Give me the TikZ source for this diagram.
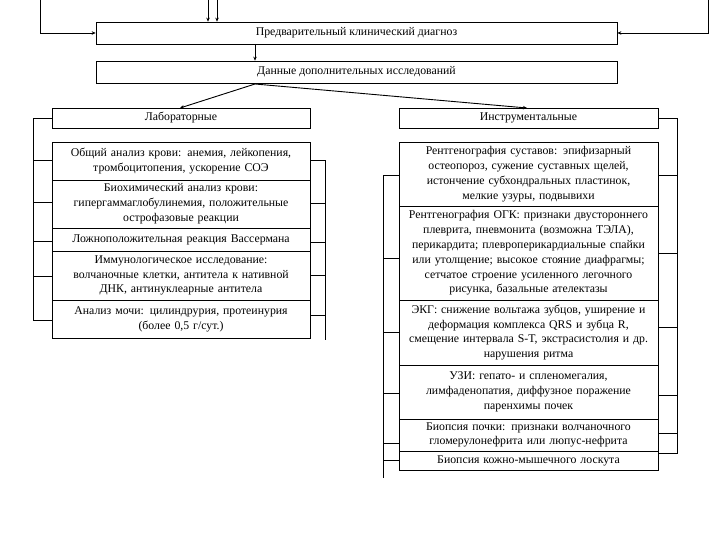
\documentclass[tikz,border=0pt]{standalone}
\usepackage{fontspec}
\setmainfont{Liberation Serif}
\usetikzlibrary{arrows.meta}
\tikzset{
  bx/.style={draw, line width=0.7pt, align=center, inner sep=0pt,
    font=\fontsize{11.8}{14.8}\selectfont},
  arr/.style={line width=0.9pt, -{Stealth[length=4pt,width=3.5pt]}},
  br/.style={line width=0.6pt},
}
\begin{document}
\begin{tikzpicture}[x=1pt,y=-1pt]
\useasboundingbox (0,0) rectangle (720,540);
% top boxes
\node[bx, minimum width=521, minimum height=22] (diag) at (356.5,33) {Предварительный клинический диагноз};
\node[bx, minimum width=521, minimum height=22] (data) at (356.5,72) {Данные дополнительных исследований};
\node[bx, minimum width=258, minimum height=20] (lab) at (181,118) {Лабораторные};
\node[bx, minimum width=259, minimum height=20] (instr) at (528.5,118) {Инструментальные};
% left column
\node[bx, minimum width=258, minimum height=38, text width=254] (L1) at (181,161) {Общий анализ крови: анемия, лейкопения,\\ тромбоцитопения, ускорение СОЭ};
\node[bx, minimum width=258, minimum height=48, text width=254] (L2) at (181,204) {Биохимический анализ крови:\\ гипергаммаглобулинемия, положительные\\ острофазовые реакции};
\node[bx, minimum width=258, minimum height=23, text width=254] (L3) at (181,239.5) {Ложноположительная реакция Вассермана};
\node[bx, minimum width=258, minimum height=49, text width=254] (L4) at (181,275.5) {Иммунологическое исследование:\\ волчаночные клетки, антитела к нативной\\ ДНК, антинуклеарные антитела};
\node[bx, minimum width=258, minimum height=38, text width=254] (L5) at (181,319) {Анализ мочи: цилиндрурия, протеинурия\\ (более 0,5 г/сут.)};
% right column
\node[bx, minimum width=259, minimum height=64, text width=255] (R1) at (528.5,174) {Рентгенография суставов: эпифизарный\\ остеопороз, сужение суставных щелей,\\ истончение субхондральных пластинок,\\ мелкие узуры, подвывихи};
\node[bx, minimum width=259, minimum height=94, text width=255] (R2) at (528.5,253) {Рентгенография ОГК: признаки двустороннего\\ плеврита, пневмонита (возможна ТЭЛА),\\ перикардита; плевроперикардиальные спайки\\ или утолщение; высокое стояние диафрагмы;\\ сетчатое строение усиленного легочного\\ рисунка, базальные ателектазы};
\node[bx, minimum width=259, minimum height=65, text width=255] (R3) at (528.5,332.5) {ЭКГ: снижение вольтажа зубцов, уширение и\\ деформация комплекса QRS и зубца R,\\ смещение интервала S-T, экстрасистолия и др.\\ нарушения ритма};
\node[bx, minimum width=259, minimum height=54, text width=255] (R4) at (528.5,392) {УЗИ: гепато- и спленомегалия,\\ лимфаденопатия, диффузное поражение\\ паренхимы почек};
\node[bx, minimum width=259, minimum height=32, text width=255] (R5) at (528.5,435) {Биопсия почки: признаки волчаночного\\ гломерулонефрита или люпус-нефрита};
\node[bx, minimum width=259, minimum height=19, text width=255] (R6) at (528.5,460.5) {Биопсия кожно-мышечного лоскута};
% top connectors
\coordinate (tl) at (40,0);
\coordinate (tr) at (708,0);
\coordinate (t1) at (208,0);
\coordinate (t2) at (217,0);
\draw[arr] (tl) |- (diag.west);
\draw[arr] (tr) |- (diag.east);
\draw[arr] (t1) -- (t1 |- diag.north);
\draw[arr] (t2) -- (t2 |- diag.north);
\draw[arr] (255,44) coordinate (d1) -- (d1 |- data.north);
\coordinate (ds) at (255,84);
\draw[arr] (ds) -- (180,108);
\draw[arr] (ds) -- (527,108);
% left column, left bracket (x=33)
\draw[br] (lab.west) -| (33,320) -- (L5.west |- 0,320);
\foreach \n/\y in {L1/160,L2/202,L3/241,L4/276}
  \draw[br] (33,\y) -- (\n.west |- 0,\y);
% left column, right bracket (x=325)
\draw[br] (L1.east |- 0,160) -| (325,340);
\foreach \n/\y in {L2/203,L3/242,L4/275,L5/315}
  \draw[br] (\n.east |- 0,\y) -- (325,\y);
% right column, left bracket (x=383)
\draw[br] (R1.west |- 0,175) -| (383,478);
\foreach \n/\y in {R2/258,R3/332,R4/393,R5/443,R6/460}
  \draw[br] (383,\y) -- (\n.west |- 0,\y);
% right column, right bracket (x=677)
\draw[br] (instr.east) -| (677,453) -- (R6.east |- 0,453);
\foreach \n/\y in {R1/175,R2/253,R3/327,R4/395,R5/433}
  \draw[br] (\n.east |- 0,\y) -- (677,\y);
\end{tikzpicture}
\end{document}
